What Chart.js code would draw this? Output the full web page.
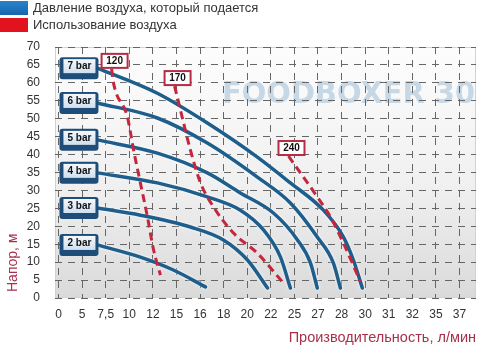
<!DOCTYPE html>
<html>
<head>
<meta charset="utf-8">
<script src="https://cdn.jsdelivr.net/npm/chart.js@4/dist/chart.umd.min.js"></script>
<style>
  html, body { margin: 0; padding: 0; background: #fff; }
  #wrap { width: 493px; height: 355px; }
</style>
</head>
<body>
<div id="wrap"><canvas id="chart" width="493" height="355"></canvas></div>
<script>
// x axis is not to scale: ticks are evenly spaced, so points use tick position
const xTickLabels = ["0", "5", "7,5", "10", "12", "15", "16", "18", "20", "22", "25", "27", "28", "30", "31", "32", "35", "37"];

// pressure curves: [tick position, head m]
const bar2 = [[1.65, 14.8], [3.47, 11.4], [4.87, 7.8], [6.23, 3.1]];
const bar3 = [[1.65, 25.1], [3.47, 23.1], [5.59, 19.8], [6.99, 16.2], [8.01, 10.6], [8.86, 2.8]];
const bar4 = [[1.65, 34.9], [4.19, 32.1], [6.31, 28.2], [7.71, 24.5], [8.69, 19.0], [9.41, 11.4], [9.83, 2.8]];
const bar5 = [[1.65, 44.1], [4.19, 40.4], [6.31, 34.9], [7.71, 29.3], [9.11, 23.7], [10.13, 16.2], [10.68, 9.8], [10.97, 2.8]];
const bar6 = [[1.65, 54.4], [4.19, 50.2], [6.31, 43.2], [8.43, 33.7], [9.83, 26.5], [10.97, 17.0], [11.65, 9.8], [11.95, 2.8]];
const bar7 = [[1.65, 64.1], [4.19, 57.1], [6.31, 48.8], [8.43, 39.3], [9.83, 32.1], [11.23, 24.5], [12.08, 17.0], [12.5, 10.6], [12.88, 2.8]];
const pressureLabels = ["2 bar", "3 bar", "4 bar", "5 bar", "6 bar", "7 bar"];

// air consumption lines
const air120 = [[2.25, 63.9], [2.33, 60.0], [2.92, 50.5], [3.18, 41.3], [3.47, 32.1], [3.77, 22.6], [4.03, 13.4], [4.32, 6.4]];
const air170 = [[4.92, 59.1], [5.17, 52.4], [5.59, 41.3], [6.02, 32.1], [6.57, 25.4], [7.42, 18.1], [8.43, 12.5], [9.49, 4.5]];
const air240 = [[9.75, 39.6], [10.97, 28.2], [11.53, 22.6], [12.08, 15.3], [12.8, 4.5]];
const airLabels = ["120", "170", "240"];

const legendTexts = ["Давление воздуха, который подается", "Использование воздуха"];
const yTitle = "Напор, м";
const xTitle = "Производительность, л/мин";
const watermark = "FOODBOXER 30";

const FONT = "'Liberation Sans', Arial, sans-serif";
const BLUE = "#1d5e8c";
const RED = "#c3263d";

const toPts = arr => arr.map(p => ({ x: p[0], y: p[1] }));

const blueSets = [bar2, bar3, bar4, bar5, bar6, bar7].map((d, i) => ({
  label: pressureLabels[i],
  data: toPts(d),
  borderColor: BLUE,
  borderWidth: 3.5,
  pointRadius: 0,
  cubicInterpolationMode: "monotone",
  borderCapStyle: "round",
  order: 1,
  kind: "bar"
}));

const redSets = [air120, air170, air240].map((d, i) => ({
  label: airLabels[i],
  data: toPts(d),
  borderColor: RED,
  borderWidth: 3,
  borderDash: [8, 5],
  pointRadius: 0,
  cubicInterpolationMode: "monotone",
  order: 0,
  kind: "air"
}));

const decor = {
  id: "decor",
  beforeDraw(chart) {
    const { ctx, chartArea: a } = chart;
    ctx.save();
    const g = ctx.createLinearGradient(0, a.top, 0, a.bottom);
    g.addColorStop(0, "#fdfdfd");
    g.addColorStop(0.55, "#f0f0f0");
    g.addColorStop(1, "#dadada");
    ctx.fillStyle = g;
    ctx.fillRect(a.left, a.top, a.right - a.left, a.bottom - a.top);
    ctx.strokeStyle = "#d2d2d2";
    ctx.lineWidth = 1;
    ctx.strokeRect(a.left + 0.5, a.top + 0.5, a.right - a.left - 1, a.bottom - a.top - 1);

    // watermark
    ctx.font = "bold 30px 'DejaVu Sans', " + FONT;
    const w = ctx.measureText(watermark).width;
    ctx.translate(222, 95);
    ctx.scale(253 / w, 1);
    ctx.fillStyle = "#c6d7e6";
    ctx.textBaseline = "middle";
    ctx.fillText(watermark, 0, 0);
    ctx.restore();
  },
  beforeDatasetDraw(chart, args) {
    if (chart.data.datasets[args.index].kind === "bar") {
      chart.ctx.save();
      chart.ctx.shadowColor = "rgba(255,255,255,0.95)";
      chart.ctx.shadowBlur = 3;
    }
  },
  afterDatasetDraw(chart, args) {
    if (chart.data.datasets[args.index].kind === "bar") chart.ctx.restore();
  },
  afterDatasetsDraw(chart) {
    const { ctx, scales: { x, y } } = chart;
    ctx.save();
    chart.data.datasets.forEach(ds => {
      const p = ds.data[0];
      const px = x.getPixelForValue(p.x);
      const py = y.getPixelForValue(p.y);
      if (ds.kind === "bar") {
        const bx = px - 38, by = py - 11;
        ctx.fillStyle = "#1e4d79";
        ctx.beginPath();
        ctx.roundRect(bx, by, 39, 22, 3);
        ctx.fill();
        const ig = ctx.createLinearGradient(0, by + 2, 0, by + 16);
        ig.addColorStop(0, "#f4f8fc");
        ig.addColorStop(1, "#cfe0f0");
        ctx.fillStyle = ig;
        ctx.fillRect(bx + 4, by + 2, 32, 14);
        ctx.fillStyle = "#111";
        ctx.font = "bold 10px " + FONT;
        ctx.textAlign = "center";
        ctx.textBaseline = "middle";
        ctx.fillText(ds.label, bx + 20, by + 9.5);
      } else {
        const cx = px + 3, bw = 26, bh = 14;
        const bx = cx - bw / 2, by = py - 1 - bh;
        ctx.fillStyle = "#fff";
        ctx.fillRect(bx, by, bw, bh);
        ctx.strokeStyle = "#b52c45";
        ctx.lineWidth = 2;
        ctx.strokeRect(bx, by, bw, bh);
        ctx.fillStyle = "#111";
        ctx.font = "bold 10px " + FONT;
        ctx.textAlign = "center";
        ctx.textBaseline = "middle";
        ctx.fillText(ds.label, cx, by + bh / 2 + 0.5);
      }
    });
    ctx.restore();
  },
  afterDraw(chart) {
    const { ctx } = chart;
    ctx.save();
    // legend
    const lg1 = ctx.createLinearGradient(0, 1, 0, 15);
    lg1.addColorStop(0, "#2a82cc");
    lg1.addColorStop(1, "#1766ad");
    ctx.fillStyle = lg1;
    ctx.fillRect(0, 1, 28, 14);
    ctx.fillStyle = "#e3121f";
    ctx.fillRect(0, 18, 28, 14);
    ctx.fillStyle = "#333";
    ctx.font = "13px " + FONT;
    ctx.textBaseline = "middle";
    ctx.fillText(legendTexts[0], 33, 8);
    ctx.fillText(legendTexts[1], 33, 25);

    // axis titles
    ctx.fillStyle = "#a8304a";
    ctx.font = "14.5px " + FONT;
    ctx.textAlign = "right";
    ctx.fillText(xTitle, 476, 338);
    ctx.font = "14px " + FONT;
    ctx.translate(13, 292);
    ctx.rotate(-Math.PI / 2);
    ctx.textAlign = "left";
    ctx.fillText(yTitle, 0, 0);
    ctx.restore();
  }
};

new Chart(document.getElementById("chart"), {
  type: "line",
  data: { datasets: [...blueSets, ...redSets] },
  options: {
    responsive: false,
    animation: false,
    events: [],
    layout: { padding: { top: 47, right: 17, left: 0, bottom: 0 } },
    plugins: { legend: { display: false }, tooltip: { enabled: false } },
    scales: {
      x: {
        type: "linear",
        min: -0.15,
        max: 17.7,
        afterBuildTicks: s => { s.ticks = xTickLabels.map((_, i) => ({ value: i })); },
        afterFit: s => { s.height = 57; },
        ticks: {
          callback: v => xTickLabels[v],
          autoSkip: false,
          maxRotation: 0,
          padding: 9,
          color: "#333",
          font: { family: FONT, size: 12 }
        },
        grid: { color: "#666", drawTicks: false, lineWidth: 1 },
        border: { display: false, dash: [7, 6] }
      },
      y: {
        min: 0,
        max: 70,
        afterFit: s => { s.width = 55; },
        ticks: {
          stepSize: 5,
          padding: 15,
          color: "#333",
          font: { family: FONT, size: 12 }
        },
        grid: { color: "#666", drawTicks: false, lineWidth: 1 },
        border: { display: false, dash: [7, 6] }
      }
    }
  },
  plugins: [decor]
});
</script>
</body>
</html>
